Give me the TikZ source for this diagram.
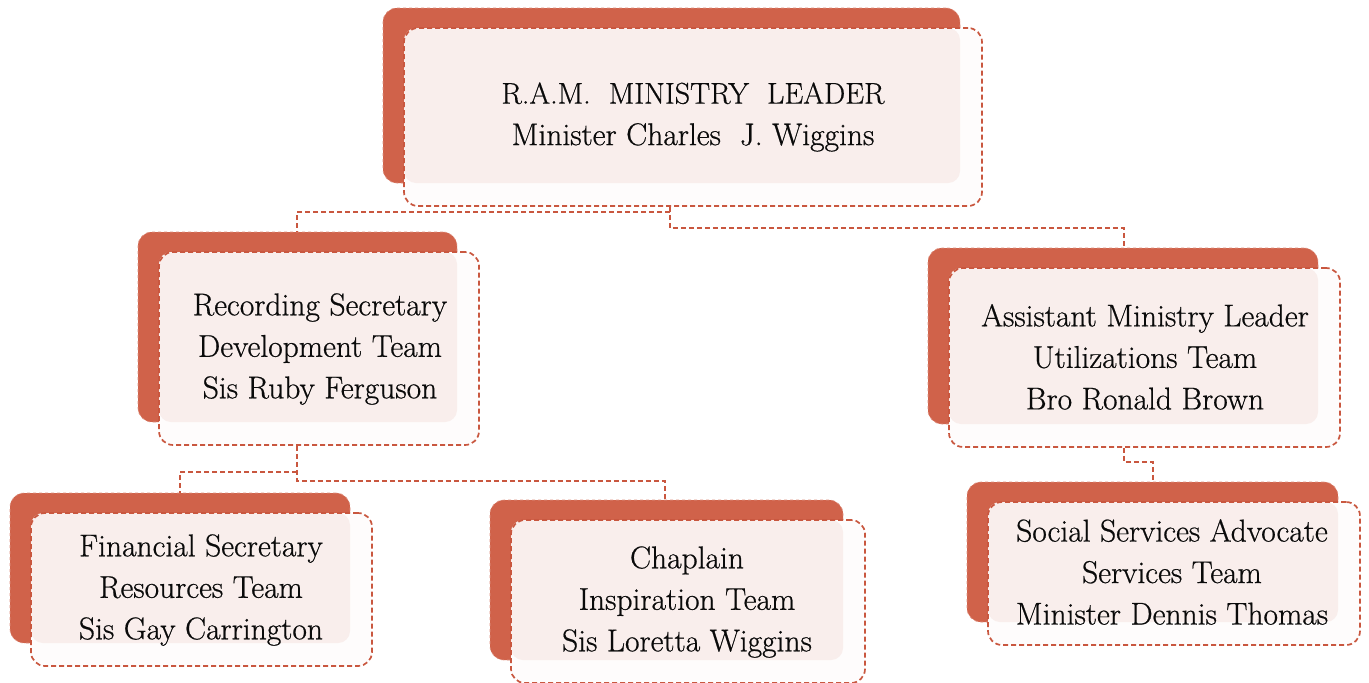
\documentclass[tikz,border=0pt]{standalone}
\usepackage{fontspec}
\setmainfont{Latin Modern Roman}[FakeBold=0.6, AutoFakeBold=0.6]
\newfontfamily\boxfont{Latin Modern Roman}[FakeBold=0.6]
\usetikzlibrary{fit}
\definecolor{backred}{HTML}{D0624A}
\definecolor{edgered}{HTML}{C9573F}
\definecolor{pinkfill}{HTML}{F9EEEC}
\definecolor{offwhite}{HTML}{FEFCFC}
\definecolor{txt}{HTML}{0A0A0A}
\tikzset{
  backbox/.style={fill=backred, draw=backred!70!white, dashed, line width=0.6pt, rounded corners=14pt, inner sep=0pt},
  frontfill/.style={fill=offwhite, rounded corners=14pt, inner sep=0pt},
  pinkbox/.style={fill=pinkfill, rounded corners=12pt, inner sep=0pt},
  frontedge/.style={draw=edgered, dashed, dash pattern=on 5pt off 3pt, line width=1.7pt, rounded corners=14pt, inner sep=0pt},
  lbl/.style={align=center, text=txt, font=\boxfont\fontsize{31.5}{41.5}\selectfont, inner sep=0pt},
  conn/.style={draw=edgered, dash pattern=on 5pt off 3pt, line width=1.7pt},
}
\newcommand\orgunit[8]{%
  \node[backbox, fit={(#2,#3) (#4,#5)}] (#1back) {};
  \node[frontfill, fit={(#2+21,#3+20) (#4+22,#5+23)}] (#1fill) {};
  \node[pinkbox, fit={(#2+21,#3+20) (#4,#5)}] (#1pink) {};
  \node[frontedge, fit={(#2+21,#3+20) (#4+22,#5+23)}] (#1) {};
  \node[lbl] (#1text) at (#6,#7) {#8};
}
\begin{document}
\begin{tikzpicture}[x=1pt,y=-1pt]
\useasboundingbox (0,0) rectangle (1369,683);
\orgunit{top}{383}{8}{960}{183}{693}{117}{\fontsize{30}{40}\selectfont R.A.M.\ \ MINISTRY\ \ LEADER\\Minister Charles\ \ J. Wiggins}
\orgunit{lm}{138}{232}{457}{422}{320}{349}{Recording Secretary\\Development Team\\Sis Ruby Ferguson}
\orgunit{rm}{928}{248}{1318}{424}{1145}{357}{Assistant Ministry Leader\\Utilizations Team\\Bro Ronald Brown}
\orgunit{bl}{10}{493}{350}{643}{201}{590}{Financial Secretary\\Resources Team\\Sis Gay Carrington}
\orgunit{bm}{490}{500}{843}{660}{687}{602}{Chaplain\\Inspiration Team\\Sis Loretta Wiggins}
\orgunit{br}{967}{482}{1338}{622}{1172}{572}{Social Services Advocate\\Services Team\\Minister Dennis Thomas}
% junction points
\coordinate (jt) at (top.south -| 670,0);
\coordinate (jtl) at (670,212);
\coordinate (jtr) at (670,228);
\coordinate (jl) at (lm.south -| 297,0);
\coordinate (jlm) at (297,472);
\coordinate (jlb) at (297,481);
\coordinate (jr) at (rm.south -| 1124,0);
\coordinate (jrm) at (1124,462);
% connectors
\draw[conn] (jtl) -| (lmback.north -| jl);
\draw[conn] (jt) -- (jtr) -| (rmback.north -| jr);
\draw[conn] (jl) -- (jlb) -| (bmback.north -| 665,0);
\draw[conn] (jlm) -| (blback.north -| 180,0);
\draw[conn] (jr) -- (jrm) -| (brback.north -| 1153,0);
\end{tikzpicture}
\end{document}
